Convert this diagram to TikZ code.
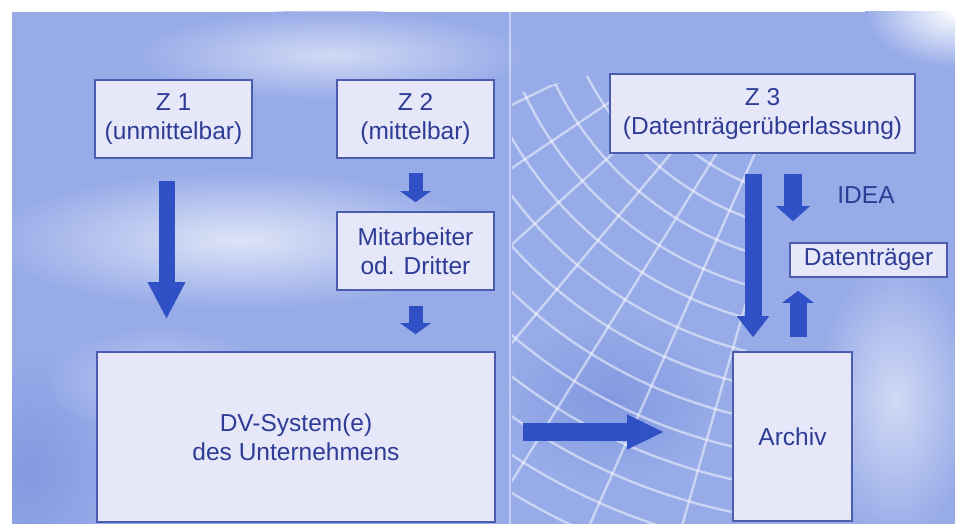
\documentclass[tikz,border=0pt]{standalone}
\usepackage{fontspec}
\setmainfont{Liberation Sans}
\usetikzlibrary{arrows.meta}
\definecolor{bgblue}{HTML}{97ABE8}
\definecolor{bgdark}{HTML}{8399E0}
\definecolor{boxfill}{HTML}{E6E8F9}
\definecolor{boxline}{HTML}{4C5DB0}
\definecolor{txt}{HTML}{2E3C96}
\definecolor{arrowblue}{HTML}{3050C6}
\begin{document}
\begin{tikzpicture}[x=1pt,y=-1pt,
  box/.style={draw=boxline, line width=1.6pt, fill=boxfill, text=txt,
    align=center, inner sep=0pt, font=\fontsize{24.5}{29}\selectfont},
  lbl/.style={text=txt, inner sep=0pt, font=\fontsize{24.5}{29}\selectfont},
  blk/.style n args={3}{draw=arrowblue, line width=#1,
    -{Triangle[width=#2, length=#3]}},
  gridline/.style={white, opacity=0.5, line width=2.4pt}]
\useasboundingbox (0,0) rectangle (955,524);
% background panel
\fill[bgblue] (12,12) rectangle (955,524);
\begin{scope}
  \clip (12,12) rectangle (955,524);
  % darker areas first
  \shade[inner color=bgdark, outer color=bgblue] (30,470) ellipse [x radius=90, y radius=120];
  \shade[inner color=bgdark, outer color=bgblue] (610,400) ellipse [x radius=110, y radius=80];
  % lighter cloud areas
  \shade[inner color=white!85!bgblue, outer color=bgblue, opacity=0.8] (240,240) ellipse [x radius=250, y radius=70];
  \shade[inner color=white!80!bgblue, outer color=bgblue, opacity=0.7] (330,55) ellipse [x radius=200, y radius=45];
  \shade[inner color=white!70!bgblue, outer color=bgblue, opacity=0.5] (160,380) ellipse [x radius=110, y radius=55];
  \shade[inner color=white, outer color=bgblue] (955,12) ellipse [x radius=90, y radius=55];
  \shade[inner color=white!70!bgblue, outer color=bgblue, opacity=0.8] (895,400) ellipse [x radius=80, y radius=140];
  \begin{scope}
    \clip (512,95) -- (610,70) -- (760,150) -- (735,524) -- (512,524) -- cycle;
    \coordinate (C) at (850,-60);
    \foreach \r in {200,232,...,680} {
      \draw[gridline] (C) ++(60:\r) arc[start angle=60, end angle=200, radius=\r];
    }
    \foreach \a in {98,106,...,178} {
      \draw[gridline] (C) ++(\a:150) -- ++(\a:700);
    }
  \end{scope}
  \draw[white, opacity=0.45, line width=2pt] (510,12) -- (510,524);
\end{scope}
% boxes
\node[box, minimum width=157pt, minimum height=78pt] (Z1) at (173.5,119) {Z 1\\(unmittelbar)};
\node[box, minimum width=157pt, minimum height=78pt] (Z2) at (415.5,119) {Z 2\\(mittelbar)};
\node[box, minimum width=305pt, minimum height=79pt] (Z3) at (762.5,113.5) {Z 3\\(Datenträgerüberlassung)};
\node[box, minimum width=157pt, minimum height=78pt] (Mit) at (415.5,251) {Mitarbeiter\\od. Dritter};
\node[box, minimum width=398pt, minimum height=170pt] (DV) at (296,437) {DV-System(e)\\des Unternehmens};
\node[box, minimum width=119pt, minimum height=169pt] (Archiv) at (792.5,436.5) {Archiv};
\node[box, minimum width=157pt, minimum height=34pt] (Dt) at (868.5,260) {Datenträger};
\node[lbl] (idea) at (866,195) {IDEA};
% arrows
\draw[blk={16pt}{35pt}{37pt}, shorten <=22pt, shorten >=32pt]
  ([xshift=-7pt]Z1.south) -- ([xshift=-7pt]Z1.south |- DV.north);
\draw[blk={14pt}{30pt}{11pt}, shorten <=14pt, shorten >=9pt]
  (Z2.south) -- (Mit.north);
\draw[blk={14pt}{30pt}{11pt}, shorten <=15pt, shorten >=17pt]
  (Mit.south) -- (Mit.south |- DV.north);
\draw[blk={17pt}{31pt}{21pt}, shorten <=20pt, shorten >=14pt]
  ([xshift=-9.5pt]Z3.south) -- ([xshift=-9.5pt]Z3.south |- Archiv.north);
\draw[blk={18pt}{33pt}{15pt}, shorten <=20pt, shorten >=21pt]
  ([xshift=30.5pt]Z3.south) -- ([xshift=30.5pt]Z3.south |- Dt.north);
\draw[blk={17pt}{31pt}{12pt}, shorten <=14pt, shorten >=13pt]
  ([xshift=5.5pt]Archiv.north) -- ([xshift=5.5pt]Archiv.north |- Dt.south);
\draw[blk={18pt}{32pt}{37pt}, shorten <=27pt, shorten >=68pt]
  ([yshift=5pt]DV.east) -- ([yshift=5pt]DV.east -| Archiv.west);
\end{tikzpicture}
\end{document}
